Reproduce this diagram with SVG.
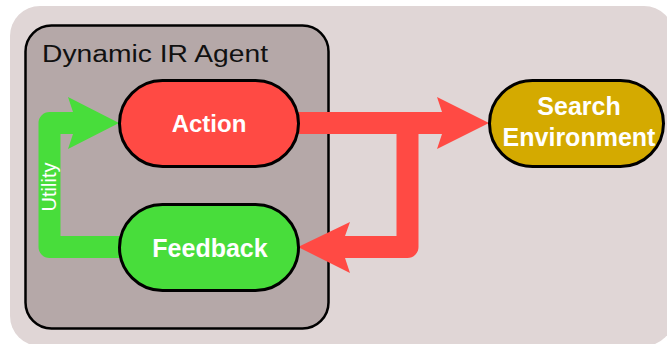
<svg xmlns="http://www.w3.org/2000/svg" width="667" height="344" viewBox="0 0 667 344">
<style>
.node{stroke:#000;stroke-width:3}
.lbl{font-family:"Liberation Sans",Arial,sans-serif;font-weight:bold;font-size:24px;fill:#fff;text-anchor:middle}
.red{fill:none;stroke:#ff4a44;stroke-width:22;stroke-linejoin:round}
.grn{fill:none;stroke:#48dd3b;stroke-width:22;stroke-linejoin:round}
</style>
<rect x="0" y="0" width="667" height="344" fill="#fff"/>
<rect x="10" y="6" width="664" height="340" rx="30" fill="#e0d6d6"/>
<g id="agent">
<rect x="25.5" y="25.5" width="303" height="303" rx="26" fill="#b5a8a8" stroke="#000" stroke-width="2.5"/>
<text x="42" y="62" font-family="Liberation Sans,Arial,sans-serif" font-size="23.5" fill="#111" textLength="226" lengthAdjust="spacingAndGlyphs">Dynamic IR Agent</text>
</g>
<g id="connectors">
<path class="red" d="M296,123 H444"/>
<polygon fill="#ff4a44" points="437,97 489,123 437,149 442,134 442,112"/>
<path class="red" d="M407.5,123 V247 H344"/>
<polygon fill="#ff4a44" points="350,222 298,247 350,273 345,258 345,236"/>
<path class="grn" d="M121,247 H49.5 V123 H74"/>
<polygon fill="#48dd3b" points="68,97 119,123 68,149 73,134 73,112"/>
<text transform="translate(56,187) rotate(-90)" font-family="Liberation Sans,Arial,sans-serif" font-size="20" fill="#fff" text-anchor="middle">Utility</text>
</g>
<g id="action">
<rect class="node" x="119.5" y="80.5" width="179" height="86" rx="43" fill="#ff4a44"/>
<text class="lbl" x="209" y="132">Action</text>
</g>
<g id="feedback">
<rect class="node" x="119.5" y="204.5" width="179" height="86" rx="43" fill="#48dd3b"/>
<text class="lbl" x="210" y="257" style="font-size:25px">Feedback</text>
</g>
<g id="search">
<rect class="node" x="489.5" y="80.5" width="174" height="86" rx="43" fill="#d4aa00"/>
<text class="lbl" x="579" y="115" style="font-size:25px">Search</text>
<text class="lbl" x="579" y="146" style="font-size:25px">Environment</text>
</g>
</svg>
